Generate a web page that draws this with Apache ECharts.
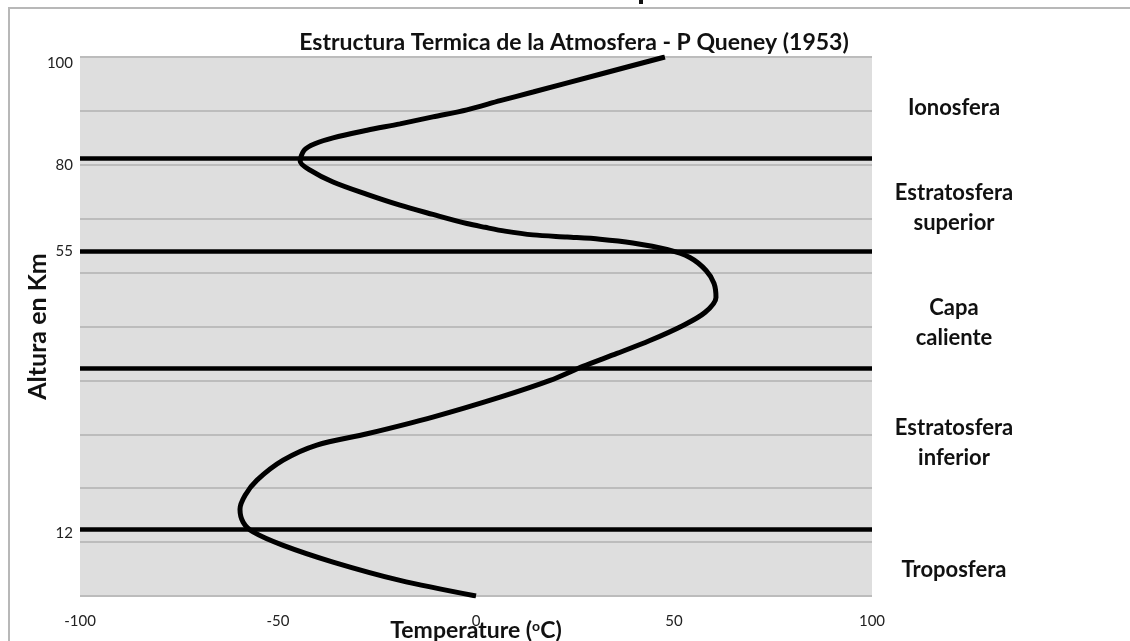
<!DOCTYPE html>
<html>
<head>
<meta charset="utf-8">
<title>Estructura Termica de la Atmosfera</title>
<script src="https://cdn.jsdelivr.net/npm/echarts@6/dist/echarts.min.js"></script>
<style>
  html, body {
    margin: 0;
    padding: 0;
    background: #fff;
  }
  #chart {
    width: 1130px;
    height: 641px;
  }
</style>
</head>
<body>
<div id="chart"></div>
<script>
// temperature profile, bottom to top
const tempC = [
  0, -19.2, -36.1, -48.7, -56.3, -58.8, -59.6, -58.3, -55.3, -48.7,
  -40.2, -27.5, -10.9, 6.1, 18.7, 27, 35.6, 43.9, 52.3, 57.8,
  60.6, 60.1, 58.1, 54, 48.2, 39.6, 31.3, 23, 14.4, 7.3,
  2.3, -2.3, -10.9, -19.2, -27.5, -36.1, -41.9, -44.4, -43.4, -40.7,
  -36.1, -27.5, -19.2, -10.9, -2.3, 6.1, 14.4, 31.3, 47.7,
];
const altKm = [
  0, 2.9, 6.3, 9.4, 11.9, 13.7, 16.1, 18.7, 21.5, 25.2,
  28, 30.1, 33.2, 36.9, 40, 42.6, 45, 47.4, 50.2, 52.6,
  55.4, 58, 60.4, 62.8, 64.3, 65.5, 66.2, 66.6, 67, 67.7,
  68.4, 69.1, 70.8, 72.5, 74.5, 76.8, 79, 80.65, 82.7, 83.9,
  85, 86.4, 87.6, 88.9, 90.2, 91.9, 93.5, 96.8, 100,
];

// layer boundaries (heavy black lines) and the labels written on the axis
const boundaries = [12.3, 42.2, 63.9, 81.2];
const yTickValues = [11.7, 63.9, 79.9, 98.9];
const yTickLabels = ['12', '55', '80', '100'];

const layerNames = [
  'Troposfera',
  'Estratosfera\ninferior',
  'Capa\ncaliente',
  'Estratosfera\nsuperior',
  'Ionosfera',
];

// layout: small vertical nudges (px) of the layer names, bottom to top
const labelNudge = [7, -6, 13, 3, 0];

const FONT = 'Lato';

const chart = echarts.init(document.getElementById('chart'));

const profile = tempC.map((t, i) => [t, altKm[i]]);

const bandEdges = [0, ...boundaries, 100];
const layerAreas = layerNames.map((name, i) => [
  { name: name, yAxis: bandEdges[i], label: { offset: [0, labelNudge[i]] } },
  { yAxis: bandEdges[i + 1] },
]);

chart.setOption({
  animation: false,
  backgroundColor: '#fff',
  title: {
    text: 'Estructura Termica de la Atmosfera - P Queney (1953)',
    left: 569,
    textAlign: 'center',
    top: 26,
    textStyle: {
      fontFamily: FONT,
      fontSize: 23,
      fontWeight: 'bold',
      color: '#111',
    },
  },
  grid: {
    left: 80,
    right: 258,
    top: 57,
    bottom: 45,
    containLabel: false,
    outerBoundsMode: 'none',
    show: true,
    backgroundColor: '#dedede',
    borderWidth: 0,
  },
  xAxis: {
    type: 'value',
    min: -100,
    max: 100,
    interval: 50,
    name: 'Temperature ({sup|o}C)',
    nameLocation: 'middle',
    nameGap: 23,
    nameMoveOverlap: false,
    nameTextStyle: {
      fontFamily: FONT,
      fontSize: 23,
      fontWeight: 'bold',
      color: '#111',
      rich: {
        sup: {
          fontFamily: FONT,
          fontSize: 14,
          fontWeight: 'bold',
          verticalAlign: 'top',
          padding: [0, 0, 10, 0],
        },
      },
    },
    axisLine: { show: false },
    axisTick: { show: false },
    splitLine: { show: false },
    axisLabel: {
      margin: 18,
      fontFamily: FONT,
      fontSize: 15,
      color: '#222',
    },
  },
  yAxis: {
    type: 'value',
    min: 0,
    max: 100,
    interval: 10,
    name: 'Altura en Km',
    nameLocation: 'middle',
    nameGap: 30,
    nameMoveOverlap: false,
    nameTextStyle: {
      fontFamily: FONT,
      fontSize: 25,
      fontWeight: 'bold',
      color: '#111',
    },
    axisLine: { show: false },
    axisTick: { show: false },
    splitLine: {
      show: true,
      lineStyle: { color: '#bcbcbc', width: 2 },
    },
    axisLabel: {
      customValues: yTickValues,
      formatter: (v) => {
        const i = yTickValues.indexOf(v);
        return i >= 0 ? yTickLabels[i] : '';
      },
      margin: 7,
      fontFamily: FONT,
      fontSize: 15,
      color: '#222',
    },
  },
  graphic: [
    // outer frame of the original figure
    {
      type: 'polyline',
      shape: { points: [[9, 641], [9, 8], [1130, 8]] },
      style: { stroke: '#b8b8b8', lineWidth: 2, fill: null },
    },
    // descender of the cut-off heading above the frame
    {
      type: 'rect',
      shape: { x: 639, y: 0, width: 4, height: 4 },
      style: { fill: '#111' },
    },
  ],
  series: [
    {
      type: 'line',
      data: profile,
      smooth: 0.3,
      showSymbol: false,
      symbol: 'none',
      lineStyle: { color: '#000', width: 5 },
      z: 5,
      markLine: {
        silent: true,
        symbol: 'none',
        label: { show: false },
        lineStyle: { color: '#000', width: 4.5, type: 'solid' },
        data: boundaries.map((b) => ({ yAxis: b })),
      },
      markArea: {
        silent: true,
        itemStyle: { color: 'transparent' },
        label: {
          show: true,
          position: 'right',
          distance: 82,
          align: 'center',
          fontFamily: FONT,
          fontSize: 22,
          fontWeight: 'bold',
          lineHeight: 30,
          color: '#111',
        },
        data: layerAreas,
      },
    },
  ],
});

window.addEventListener('resize', () => chart.resize());
</script>
</body>
</html>
